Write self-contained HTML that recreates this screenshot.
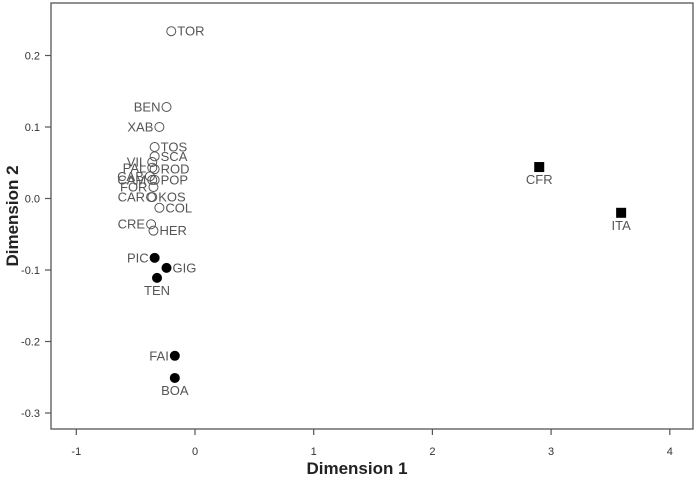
<!DOCTYPE html>
<html><head><meta charset="utf-8">
<style>
html,body{margin:0;padding:0;background:#fff;}
svg{display:block;font-family:"Liberation Sans",Arial,sans-serif;}
</style></head>
<body>
<svg id="chart" width="697" height="479" viewBox="0 0 697 479">
  <rect x="51" y="3" width="642" height="426" fill="none" stroke="#555" stroke-width="1.3"/>
  <g id="xticks"></g>
  <g id="yticks"></g>
  <g id="points"></g>
  <text x="357" y="474" text-anchor="middle" font-size="17" font-weight="bold" fill="#222">Dimension  1</text>
  <text transform="translate(18,216) rotate(-90)" text-anchor="middle" font-size="17" font-weight="bold" fill="#222">Dimension  2</text>
</svg>
<script>
const labels = ["TOR","BEN","XAB","TOS","SCA","VIL","PAL","ROD","CAB","CAM","POP","FOR","CAR","KOS","COL","CRE","HER","PIC","GIG","TEN","FAI","BOA","CFR","ITA"];
const dim1 = [-0.20,-0.24,-0.30,-0.34,-0.34,-0.36,-0.36,-0.34,-0.38,-0.36,-0.34,-0.35,-0.37,-0.36,-0.30,-0.37,-0.35,-0.34,-0.24,-0.32,-0.17,-0.17,2.90,3.59];
const dim2 = [0.234,0.128,0.100,0.072,0.059,0.051,0.043,0.041,0.031,0.026,0.026,0.016,0.002,0.002,-0.013,-0.036,-0.045,-0.083,-0.097,-0.111,-0.220,-0.251,0.044,-0.020];
const groups = ["o","o","o","o","o","o","o","o","o","o","o","o","o","o","o","o","o","f","f","f","f","f","s","s"];
const labelPos = ["r","l","l","r","r","l","l","r","l","l","r","l","l","r","r","l","r","l","r","b","l","b","b","b"];
const xTicks = [-1,0,1,2,3,4];
const yTicks = [0.2,0.1,0.0,-0.1,-0.2,-0.3];
const yTickLabels = ["0.2","0.1","0.0","-0.1","-0.2","-0.3"];

const X = v => 195 + v*118.7;
const Y = v => 198.5 - v*715;
const NS = "http://www.w3.org/2000/svg";
function mk(tag, attrs){const e=document.createElementNS(NS,tag);for(const k in attrs)e.setAttribute(k,attrs[k]);return e;}

const gx = document.getElementById('xticks');
xTicks.forEach(t=>{
  const l = mk('line',{x1:X(t),x2:X(t),y1:429,y2:435,stroke:'#555','stroke-width':1.2});
  
  
  gx.appendChild(l);
  const tx = mk('text',{x:X(t),y:455,'text-anchor':'middle','font-size':11,fill:'#333'});
  
  
  tx.textContent = String(t);
  gx.appendChild(tx);
});
const gy = document.getElementById('yticks');
yTicks.forEach((t,i)=>{
  const l = mk('line',{x1:45,x2:51,y1:Y(t),y2:Y(t),stroke:'#555','stroke-width':1.2});
  
  
  gy.appendChild(l);
  const tx = mk('text',{x:40,y:Y(t)+4,'text-anchor':'end','font-size':11,fill:'#333'});
  
  
  tx.textContent = yTickLabels[i];
  gy.appendChild(tx);
});

const gp = document.getElementById('points');
labels.forEach((lab,i)=>{
  const cx = X(dim1[i]), cy = Y(dim2[i]);
  let m;
  if(groups[i]==='s'){
    m = mk('rect',{x:cx-5,y:cy-5,width:10,height:10,fill:'#000'});
  } else if(groups[i]==='f'){
    m = mk('circle',{cx:cx,cy:cy,r:5,fill:'#000'});
  } else {
    m = mk('circle',{cx:cx,cy:cy,r:4.5,fill:'none',stroke:'#555','stroke-width':1});
  }
  
  
  gp.appendChild(m);
  const p = labelPos[i];
  let ax, ay, anchor;
  if(p==='r'){ax=cx+6;ay=cy+4.5;anchor='start';}
  else if(p==='l'){ax=cx-6;ay=cy+4.5;anchor='end';}
  else {ax=cx;ay=cy+17;anchor='middle';}
  const t = mk('text',{x:ax,y:ay,'text-anchor':anchor,'font-size':13,fill:'#555'});
  
  
  t.textContent = lab;
  gp.appendChild(t);
});
</script>
</body></html>
